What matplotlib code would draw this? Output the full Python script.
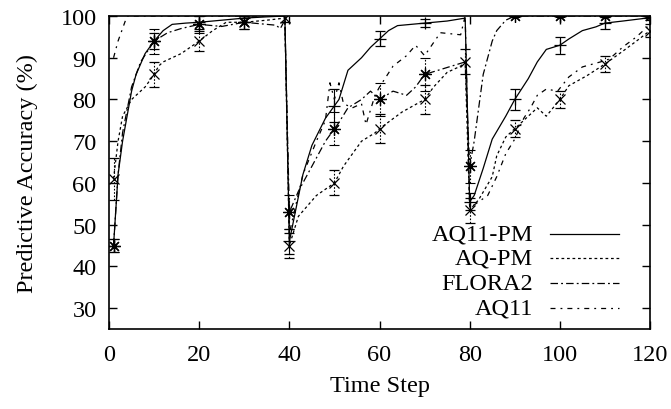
import matplotlib
matplotlib.use("Agg")
import matplotlib.pyplot as plt

plt.rcParams['font.family'] = ['Liberation Serif', 'DejaVu Serif']
plt.rcParams['font.size'] = 17.5

# AQ11-PM (solid, +)
t_aq11pm = [1, 2, 3, 4, 5, 6, 8, 10, 12, 14, 17, 20, 25, 30, 35, 39,
            40, 43, 45, 48, 50, 51, 53, 56, 58, 60, 62, 64, 70, 75, 79,
            80, 81, 83, 85, 88, 90, 93, 95, 97, 100, 102, 105, 108, 110, 114, 120]
v_aq11pm = [45, 62, 70, 76, 82, 86, 91, 94, 96.5, 98, 98.3, 98.5, 99, 99.5, 99.8, 100,
            46, 62, 69, 75.5, 78.5, 80, 87, 90, 92.5, 94.5, 96.5, 97.7, 98.3, 98.8, 99.5,
            55.5, 57, 63.5, 70.5, 76, 80, 85, 89, 92, 93, 94.5, 96.5, 97.4, 98.3, 98.8, 99.6]

# AQ-PM (dotted, x)
t_aqpm = [1, 2, 3, 5, 8, 10, 11, 12, 16, 20, 23, 26, 30, 35, 39,
          40, 42, 46, 50, 52, 56, 59, 60, 65, 70, 72, 75, 78, 79,
          80, 82, 85, 86, 88, 90, 93, 95, 97, 100, 102, 106, 110, 114, 117, 120]
v_aqpm = [61, 70, 76, 80, 83, 86, 88, 89, 91, 94, 96.5, 98.5, 98.5, 99, 99.5,
          45, 52, 57, 60, 64, 70, 72, 73, 77, 80, 83, 86.5, 88, 89,
          53.5, 56, 61.5, 66.5, 71, 73, 76, 78, 76, 80, 83.3, 85.7, 88.5, 91.6, 94, 96.5]

# FLORA2 (dash-dot, asterisk)
t_flora = [1, 2, 3, 5, 7, 10, 13, 16, 20, 25, 30, 35, 37, 38, 39,
           40, 42, 45, 48, 50, 51, 53, 56, 58, 60, 63, 66, 68, 70, 73, 76, 79,
           80, 81, 82, 83, 84, 85, 86, 88, 90, 100, 110, 120]
v_flora = [45, 62, 72, 83, 89, 94, 96, 97, 98, 97.5, 98.5, 98, 97.8, 97, 99,
           53, 58, 64, 70, 73, 74.5, 78, 80, 82, 80, 82, 81, 83, 86, 87, 88, 89,
           64, 70, 78, 86, 90, 94, 96.5, 99, 100, 100, 100, 100]

# AQ11 (dash-dot-dot, no points)
t_aq11 = [1, 2, 3, 4, 39,
          40, 43, 46, 48, 49, 50, 51, 52, 54, 56, 57, 59, 60, 63, 66, 68, 70, 73.5, 78, 79,
          80, 82, 84, 86, 88, 90, 92, 93.5, 95, 97, 99.5, 102, 105, 109, 111, 114, 117, 120]
v_aq11 = [90, 94, 97, 100, 100,
          48, 62, 70, 75, 84, 80, 84, 79, 78, 79, 74, 81, 83, 88, 90.5, 93, 90.5, 96, 95.5, 100,
          54, 55.5, 57, 61.5, 67, 70.5, 75.5, 78, 81, 82.5, 82, 85.4, 87.8, 89, 89.7, 92.6, 95, 98]

# error bars every 10 steps
eb_aq11pm_t = [1, 10, 20, 30, 40, 50, 60, 70, 80, 90, 100, 110, 120]
eb_aq11pm_v = [45, 94, 98.5, 99.5, 46, 78.5, 94.5, 98.3, 55.5, 80, 93, 98.3, 99.6]
eb_aq11pm_e = [1.5, 2, 1.5, 1, 3, 4, 1.8, 1, 2, 2.5, 2, 1.5, 0.5]

eb_aqpm_t = [1, 10, 20, 30, 39, 40, 50, 60, 70, 79, 80, 90, 100, 110, 120]
eb_aqpm_v = [61, 86, 94, 98.5, 99.5, 45, 60, 73, 80, 89, 53.5, 73, 80, 88.5, 96.5]
eb_aqpm_e = [5, 3, 2.5, 1.5, 1, 3, 3, 3.5, 3.5, 3, 3, 2, 2, 2, 1.5]

eb_flora_t = [1, 10, 20, 30, 40, 50, 60, 70, 80, 90, 100, 110, 120]
eb_flora_v = [45, 94, 98, 98.5, 53, 73, 80, 86, 64, 100, 100, 100, 100]
eb_flora_e = [1.5, 3, 2, 1.5, 4, 4, 4, 4, 4, 0.3, 0.3, 0.3, 0.3]

labels = ['AQ11-PM', 'AQ-PM', 'FLORA2', 'AQ11']

fig = plt.figure(figsize=(6.71, 4.10), dpi=100)
ax = fig.add_axes([0.1625, 0.195, 0.8062, 0.7635])

lw = 0.9
ax.plot(t_aq11pm, v_aq11pm, color='black', lw=lw, ls='-')
l2, = ax.plot(t_aqpm, v_aqpm, color='black', lw=lw)
l2.set_dashes((2.2, 2.2))
l3, = ax.plot(t_flora, v_flora, color='black', lw=lw)
l3.set_dashes((6, 2.5, 1.5, 2.5))
l4, = ax.plot(t_aq11, v_aq11, color='black', lw=lw)
l4.set_dashes((4, 4, 1.5, 4))

e1 = ax.errorbar(eb_aq11pm_t, eb_aq11pm_v, yerr=eb_aq11pm_e, fmt='+', color='black',
                 ms=8, mew=0.9, elinewidth=0.8, capsize=3.5, capthick=0.8)
e2 = ax.errorbar(eb_aqpm_t, eb_aqpm_v, yerr=eb_aqpm_e, fmt='x', color='black',
                 ms=7, mew=0.9, elinewidth=0.8, capsize=3.5, capthick=0.8)
e2[2][0].set_linestyle((0, (1.5, 1.5)))
e3 = ax.errorbar(eb_flora_t, eb_flora_v, yerr=eb_flora_e, fmt='none', color='black',
                 elinewidth=0.8, capsize=3.5, capthick=0.8)
e3[2][0].set_linestyle((0, (1.5, 1.5)))
ax.plot(eb_flora_t, eb_flora_v, ls='none', marker=(8, 2, 0), color='black', ms=9, mew=0.9)

ax.set_xlim(0, 120)
ax.set_ylim(25, 100)
ax.set_xticks(range(0, 121, 20))
ax.set_yticks(range(30, 101, 10))
ax.tick_params(direction='in', length=6, width=1, top=True, right=True)
ax.tick_params(axis='x', pad=11)
ax.tick_params(axis='y', pad=9)
for s in ax.spines.values():
    s.set_linewidth(1.2)

ax.set_xlabel('Time Step', labelpad=7)
ax.set_ylabel('Predictive Accuracy (%)', labelpad=16)

# gnuplot style key: right-aligned text followed by line sample
styles = [l for l in ax.get_lines()[:4]]
ys = [0.304, 0.226, 0.146, 0.067]
for lab, ln, yy in zip(labels, styles, ys):
    ax.text(0.784, yy, lab, transform=ax.transAxes, ha='right', va='center')
    h, = ax.plot([0.815, 0.943], [yy, yy], transform=ax.transAxes, color='black', lw=lw)
    h.set_linestyle(ln.get_linestyle())
    if ln.get_linestyle() != '-':
        h.set_dashes(ln._unscaled_dash_pattern[1])

fig.savefig('out.png', dpi=100)
